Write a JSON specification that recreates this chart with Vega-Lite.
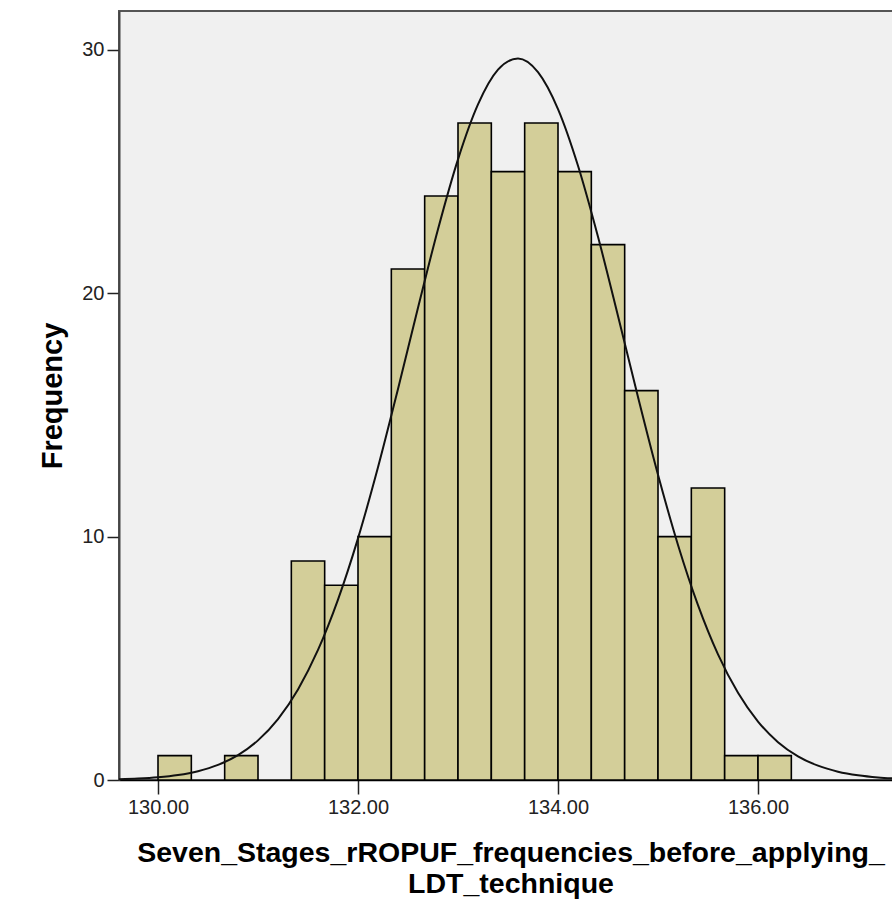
{
  "$schema": "https://vega.github.io/schema/vega-lite/v6.json",
  "autosize": {"type": "none"},
  "padding": {"left": 119, "top": 11, "right": 0, "bottom": 143},
  "width": 783,
  "height": 769,
  "background": "#ffffff",
  "config": {
    "view": {"fill": "#f0f0f0", "stroke": "#555555", "strokeWidth": 2},
    "font": "Liberation Sans"
  },
  "datasets": {
    "bins": [
      {"start": 130.0, "end": 130.3333, "count": 1},
      {"start": 130.6667, "end": 131.0, "count": 1},
      {"start": 131.3333, "end": 131.6667, "count": 9},
      {"start": 131.6667, "end": 132.0, "count": 8},
      {"start": 132.0, "end": 132.3333, "count": 10},
      {"start": 132.3333, "end": 132.6667, "count": 21},
      {"start": 132.6667, "end": 133.0, "count": 24},
      {"start": 133.0, "end": 133.3333, "count": 27},
      {"start": 133.3333, "end": 133.6667, "count": 25},
      {"start": 133.6667, "end": 134.0, "count": 27},
      {"start": 134.0, "end": 134.3333, "count": 25},
      {"start": 134.3333, "end": 134.6667, "count": 22},
      {"start": 134.6667, "end": 135.0, "count": 16},
      {"start": 135.0, "end": 135.3333, "count": 10},
      {"start": 135.3333, "end": 135.6667, "count": 12},
      {"start": 135.6667, "end": 136.0, "count": 1},
      {"start": 136.0, "end": 136.3333, "count": 1}
    ],
    "curve": [
      {"x": 129.6, "y": 0.030}, {"x": 129.8, "y": 0.059}, {"x": 130.0, "y": 0.112},
      {"x": 130.2, "y": 0.205}, {"x": 130.4, "y": 0.363}, {"x": 130.6, "y": 0.620},
      {"x": 130.8, "y": 1.022}, {"x": 131.0, "y": 1.628}, {"x": 131.2, "y": 2.504},
      {"x": 131.4, "y": 3.723}, {"x": 131.6, "y": 5.344}, {"x": 131.8, "y": 7.413},
      {"x": 132.0, "y": 9.930}, {"x": 132.2, "y": 12.851}, {"x": 132.4, "y": 16.068},
      {"x": 132.6, "y": 19.402}, {"x": 132.8, "y": 22.633}, {"x": 133.0, "y": 25.505},
      {"x": 133.2, "y": 27.762}, {"x": 133.4, "y": 29.190}, {"x": 133.6, "y": 29.650},
      {"x": 133.8, "y": 29.090}, {"x": 134.0, "y": 27.570}, {"x": 134.2, "y": 25.241},
      {"x": 134.4, "y": 22.322}, {"x": 134.6, "y": 19.069}, {"x": 134.8, "y": 15.736},
      {"x": 135.0, "y": 12.545}, {"x": 135.2, "y": 9.660}, {"x": 135.4, "y": 7.185},
      {"x": 135.6, "y": 5.162}, {"x": 135.8, "y": 3.584}, {"x": 136.0, "y": 2.402},
      {"x": 136.2, "y": 1.556}, {"x": 136.4, "y": 0.973}, {"x": 136.6, "y": 0.588},
      {"x": 136.8, "y": 0.343}, {"x": 137.0, "y": 0.194}, {"x": 137.2, "y": 0.105},
      {"x": 137.4, "y": 0.056}
    ]
  },
  "layer": [
    {
      "data": {"name": "bins"},
      "mark": {"type": "rect", "fill": "#d3ce99", "stroke": "#000000", "strokeWidth": 1.6},
      "encoding": {
        "x": {
          "field": "start", "type": "quantitative",
          "scale": {"domain": [129.61, 137.44], "nice": false, "zero": false},
          "axis": {
            "values": [130, 132, 134, 136], "format": ".2f", "grid": false,
            "domainColor": "#000000", "domainWidth": 1.5,
            "tickColor": "#222222", "tickWidth": 1.5, "tickSize": 14,
            "labelFont": "Liberation Sans", "labelFontSize": 20, "labelColor": "#222222", "labelPadding": 3,
            "title": ["Seven_Stages_rROPUF_frequencies_before_applying_", "LDT_technique"],
            "titleFont": "Liberation Sans", "titleFontSize": 28.5, "titleFontWeight": "bold",
            "titleColor": "#000000", "titleLineHeight": 31, "titlePadding": 21
          }
        },
        "x2": {"field": "end"},
        "y": {
          "field": "count", "type": "quantitative",
          "scale": {"domain": [0, 31.6], "nice": false},
          "axis": {
            "values": [0, 10, 20, 30], "grid": false,
            "domainColor": "#444444", "domainWidth": 2,
            "tickColor": "#222222", "tickWidth": 1.5, "tickSize": 12,
            "labelFont": "Liberation Sans", "labelFontSize": 20, "labelColor": "#222222", "labelPadding": 3,
            "title": "Frequency",
            "titleFont": "Liberation Sans", "titleFontSize": 29, "titleFontWeight": "bold",
            "titleColor": "#000000", "titlePadding": 14
          }
        },
        "y2": {"datum": 0}
      }
    },
    {
      "data": {"name": "curve"},
      "mark": {"type": "line", "color": "#111111", "strokeWidth": 2, "interpolate": "monotone", "clip": true},
      "encoding": {
        "x": {"field": "x", "type": "quantitative"},
        "y": {"field": "y", "type": "quantitative"}
      }
    }
  ]
}
